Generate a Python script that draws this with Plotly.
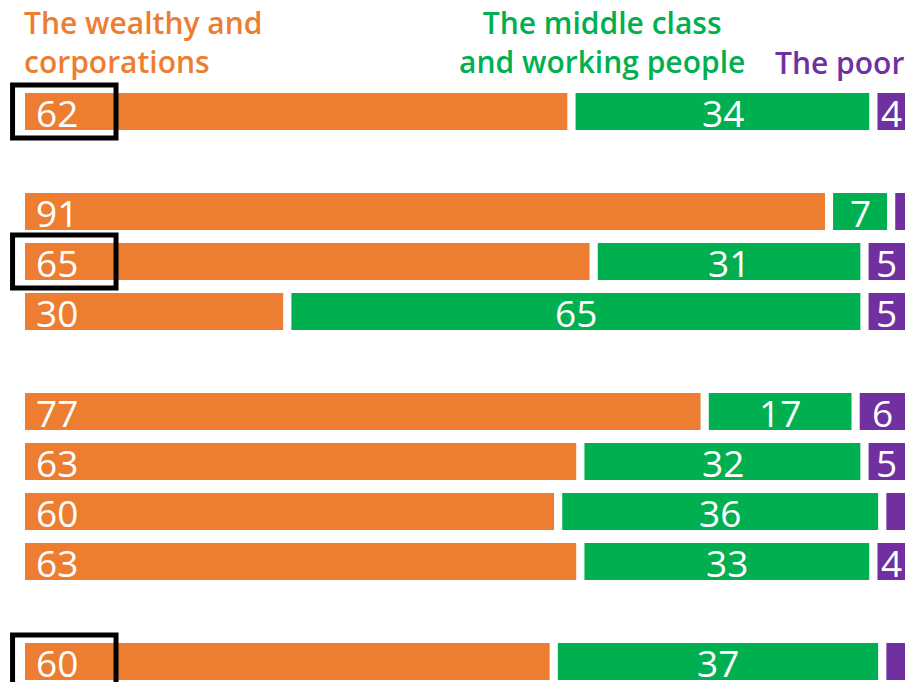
import plotly.graph_objects as go

# Data (percent); slots are row positions (gaps between groups)
slots = [0, 2, 3, 4, 6, 7, 8, 9, 11]
wealthy = [62, 91, 64.5, 30, 77, 63, 60.5, 63, 60]
middle = [34, 7, 30.5, 65, 17, 32, 36.5, 33, 37]
poor = [4, 2, 5, 5, 6, 5, 3, 4, 3]
wealthy_lbl = ["62", "91", "65", "30", "77", "63", "60", "63", "60"]
middle_lbl = ["34", "7", "31", "65", "17", "32", "36", "33", "37"]
poor_lbl = ["4", "", "5", "5", "6", "5", "", "4", ""]
boxed_slots = [0, 3, 11]

ORANGE = "#ED7D31"
GREEN = "#00B050"
PURPLE = "#7030A0"

W, H = 918, 682
fig = go.Figure()
for vals, base_vals, col in [
    (wealthy, [0] * len(wealthy), ORANGE),
    (middle, wealthy, GREEN),
    (poor, [a + b for a, b in zip(wealthy, middle)], PURPLE),
]:
    fig.add_trace(go.Bar(
        y=slots, x=vals, base=base_vals, orientation="h",
        width=[0.9] * len(slots),
        marker=dict(color=col, line=dict(color="white", width=8)),
        hoverinfo="skip", showlegend=False,
    ))

lab_font = dict(family="Open Sans", size=37, color="white")
ann = []
for i, s in enumerate(slots):
    ann.append(dict(x=0, y=s, xref="x", yref="y", text=wealthy_lbl[i], showarrow=False,
                    xanchor="left", yanchor="middle", xshift=13, yshift=-1, font=lab_font))
    ann.append(dict(x=wealthy[i] + middle[i] / 2, y=s, xref="x", yref="y", text=middle_lbl[i],
                    showarrow=False, xanchor="center", yanchor="middle", yshift=-1, font=lab_font))
    if poor_lbl[i]:
        ann.append(dict(x=wealthy[i] + middle[i] + poor[i] / 2, y=s, xref="x", yref="y",
                        text=poor_lbl[i], showarrow=False, xanchor="center", yanchor="middle",
                        yshift=-1, font=lab_font))

hfont = dict(family="Open Sans", size=30, weight=600)
ann.append(dict(x=22 / W, y=1 - 42 / H, xref="paper", yref="paper", showarrow=False,
                text="The wealthy and<br>corporations", align="left", xanchor="left",
                yanchor="middle", font=dict(hfont, color=ORANGE)))
ann.append(dict(x=602 / W, y=1 - 42 / H, xref="paper", yref="paper", showarrow=False,
                text="The middle class<br>and working people", align="center", xanchor="center",
                yanchor="middle", font=dict(hfont, color=GREEN)))
ann.append(dict(x=906 / W, y=1 - 62 / H, xref="paper", yref="paper", showarrow=False,
                text="The poor", align="right", xanchor="right",
                yanchor="middle", font=dict(hfont, color=PURPLE)))

shapes = []
for s in boxed_slots:
    shapes.append(dict(type="rect", xref="x", yref="y", x0=-0.95, x1=10.7,
                       y0=s - 0.53, y1=s + 0.53, line=dict(color="black", width=5),
                       fillcolor="rgba(0,0,0,0)", layer="above"))

x0px, scale = 21, 8.88
fig.update_layout(
    width=W, height=H, margin=dict(l=0, r=0, t=0, b=0),
    plot_bgcolor="white", paper_bgcolor="white", barmode="overlay",
    xaxis=dict(range=[-x0px / scale, (W - x0px) / scale], visible=False, fixedrange=True),
    yaxis=dict(range=[(H - 111.5) / 50, -111.5 / 50], visible=False, fixedrange=True),
    annotations=ann, shapes=shapes,
)
fig.write_html("out.html")
